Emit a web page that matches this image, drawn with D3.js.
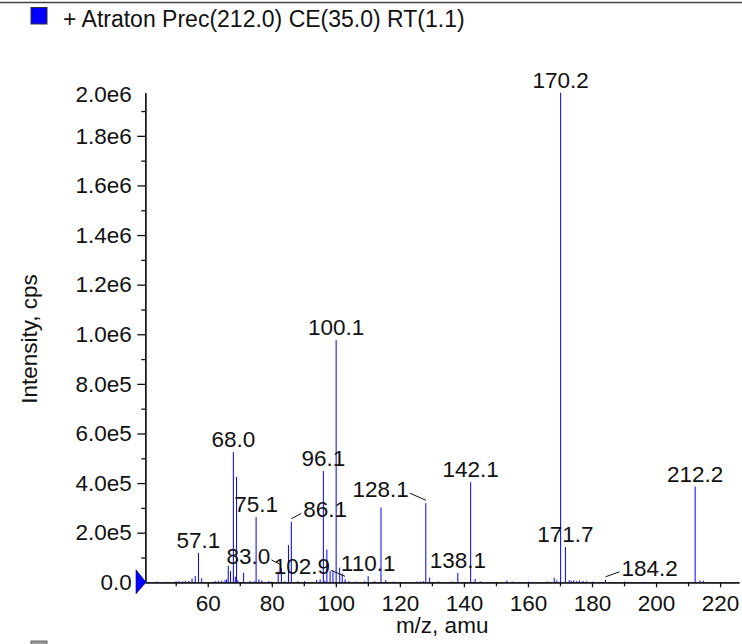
<!DOCTYPE html>
<html>
<head>
<meta charset="utf-8">
<script src="https://cdn.jsdelivr.net/npm/d3@7"></script>
<style>
body{margin:0;background:#fff}
svg{display:block;font-family:"Liberation Sans",Arial,Helvetica,sans-serif}
</style>
</head>
<body>
<svg id="chart"></svg>
<script>
let title = "+ Atraton Prec(212.0) CE(35.0) RT(1.1)"
let xTitle = "m/z, amu"
let yTitle = "Intensity, cps"

// peaks
let mzValues = [44.1, 47.0, 50.1, 51.0, 52.1, 53.0, 54.1, 55.1, 56.1, 57.1, 58.1,
  62.3, 63.3, 64.4, 65.4, 65.9, 66.4, 67.1, 68.0, 68.6, 69.0, 69.4, 71.2, 73.2, 74.5,
  75.1, 76.0, 76.9, 79.1, 80.0, 82.0, 83.0, 84.1, 85.2, 86.1, 88.1, 90.2, 94.0, 95.1,
  96.1, 96.6, 97.2, 98.2, 99.1, 100.1, 101.2, 102.0, 102.9, 104.1, 106.1, 109.0, 110.1,
  112.1, 114.1, 115.6, 118.1, 125.3, 126.6, 127.4, 128.1, 129.3, 132.1, 136.1, 138.1,
  142.1, 143.5, 145.1, 153.4, 155.1, 160.1, 166.1, 168.2, 169.0, 170.2, 171.7, 172.9,
  173.5, 174.3, 175.2, 176.1, 177.2, 178.3, 180.4, 184.2, 190.1, 196.2, 212.2, 213.7, 214.8]
let intensities = [3000, 2500, 4000, 5000, 4000, 6000, 5000, 15000, 25000, 118000, 16000,
  5000, 6000, 7000, 9000, 12000, 67000, 45000, 525000, 23000, 425000, 8000, 39000, 5000, 4000,
  263000, 12000, 8000, 5000, 3000, 43000, 58000, 4000, 150000, 244000, 4000, 5000, 10000, 12000,
  449000, 6000, 132000, 45000, 46000, 977000, 59000, 35000, 12000, 4000, 3000, 4000, 25000,
  4000, 302000, 9000, 3000, 3000, 3000, 4000, 319000, 19000, 3000, 3000, 37600,
  403000, 13000, 4000, 7000, 3000, 2500, 3000, 19000, 8000, 1974000, 142000, 9000,
  6000, 8000, 5000, 7000, 5000, 4000, 3000, 10000, 3000, 2000, 386000, 8000, 6000]

let labelMz = [57.1, 68.0, 75.1, 83.0, 86.1, 96.1, 100.1, 102.9, 110.1, 128.1, 138.1, 142.1, 170.2, 171.7, 184.2, 212.2]

let xDomain = [40.5, 225.9]
let yMax = 1974000
let xTicks = [60, 80, 100, 120, 140, 160, 180, 200, 220]
let xMinorTicks = [50, 70, 90, 110, 130, 150, 170, 190, 210]
let yTicks = [0, 200000, 400000, 600000, 800000, 1000000, 1200000, 1400000, 1600000, 1800000]
let yTickLabels = ["0.0", "2.0e5", "4.0e5", "6.0e5", "8.0e5", "1.0e6", "1.2e6", "1.4e6", "1.6e6", "1.8e6"]
let yMinorTicks = [100000, 300000, 500000, 700000, 900000, 1100000, 1300000, 1500000, 1700000, 1900000]
let yTopLabel = "2.0e6"

let width = 742
let height = 644
let plotLeft = 145.3
let plotRight = 739
let plotTop = 92.7
let plotBottom = 582.3
let fontSize = 22.5

// labels that are pushed aside and tied to their peak with a short line
let shifted = {
  "83.0": {anchor: "end", dx: -11, dy: -4},
  "86.1": {anchor: "start", dx: 12, dy: -4.4},
  "102.9": {anchor: "end", dx: -15, dy: -5},
  "128.1": {anchor: "end", dx: -17, dy: -6},
  "184.2": {anchor: "start", dx: 16, dy: -4}
}

let svg = d3.select('#chart')
            .attr('width', width)
            .attr('height', height)

let xScale = d3.scaleLinear().domain(xDomain).range([plotLeft, plotRight])
let yScale = d3.scaleLinear().domain([0, yMax]).range([plotBottom, plotTop])

let drawFrame = () => {
  svg.append('line')
     .attr('x1', 0).attr('x2', width)
     .attr('y1', 2.5).attr('y2', 2.5)
     .attr('stroke', '#444').attr('stroke-width', 1.5)

  svg.append('rect')
     .attr('x', 31).attr('y', 7.5).attr('width', 16).attr('height', 16.5)
     .attr('fill', '#0000ff').attr('stroke', '#333').attr('stroke-width', 1)

  svg.append('text')
     .attr('x', 63).attr('y', 26.5)
     .attr('font-size', 23).attr('fill', '#111')
     .text(title)

  svg.append('rect')
     .attr('x', 31).attr('y', 641).attr('width', 16).attr('height', 16)
     .attr('fill', '#999').attr('stroke', '#666').attr('stroke-width', 1)
}

let drawAxes = () => {
  let xAxis = d3.axisBottom(xScale)
                .tickValues(xTicks)
                .tickFormat(d3.format('d'))
                .tickSize(5)
                .tickSizeOuter(0)
                .tickPadding(8)
  let xMinor = d3.axisBottom(xScale).tickValues(xMinorTicks).tickFormat('').tickSize(4).tickSizeOuter(0)

  let yAxis = d3.axisLeft(yScale)
                .tickValues(yTicks)
                .tickFormat((d, i) => yTickLabels[i])
                .tickSize(8)
                .tickSizeOuter(0)
                .tickPadding(5.6)
  let yMinor = d3.axisLeft(yScale).tickValues(yMinorTicks).tickFormat('').tickSize(4).tickSizeOuter(0)

  svg.append('g').attr('id', 'x-axis')
     .attr('transform', 'translate(0,' + plotBottom + ')')
     .call(xAxis)
  svg.append('g').attr('transform', 'translate(0,' + plotBottom + ')').call(xMinor)

  svg.append('g').attr('id', 'y-axis')
     .attr('transform', 'translate(' + plotLeft + ',0)')
     .call(yAxis)
  svg.append('g').attr('transform', 'translate(' + plotLeft + ',0)').call(yMinor)

  svg.selectAll('.domain, .tick line')
     .attr('stroke', '#111').attr('stroke-width', 1.3)
  svg.selectAll('.tick text')
     .attr('font-size', fontSize).attr('fill', '#111')
     .attr('font-family', '"Liberation Sans",Arial,sans-serif')

  svg.append('text')
     .attr('x', plotLeft - 13.6).attr('y', yScale(yMax) + 2)
     .attr('dy', '0.32em')
     .attr('text-anchor', 'end')
     .attr('font-size', fontSize).attr('fill', '#111')
     .text(yTopLabel)

  svg.append('text')
     .attr('transform', 'translate(37.3,' + ((plotTop + plotBottom) / 2 + 1.5) + ') rotate(-90)')
     .attr('text-anchor', 'middle')
     .attr('font-size', fontSize).attr('fill', '#111')
     .text(yTitle)

  svg.append('text')
     .attr('x', (plotLeft + plotRight) / 2).attr('y', 633)
     .attr('text-anchor', 'middle')
     .attr('font-size', fontSize).attr('fill', '#111')
     .text(xTitle)
}

let drawPeaks = () => {
  let peaks = mzValues.map((m, i) => ({mz: m, value: intensities[i]}))
  svg.append('g')
     .selectAll('line')
     .data(peaks)
     .enter()
     .append('line')
     .attr('x1', d => xScale(d.mz)).attr('x2', d => xScale(d.mz))
     .attr('y1', yScale(0)).attr('y2', d => yScale(d.value))
     .attr('stroke', '#0000ff').attr('stroke-width', 1)

  // precursor marker on the y axis
  let y0 = yScale(0)
  svg.append('path')
     .attr('d', 'M' + (plotLeft - 9.3) + ',' + (y0 - 12.5) + 'L' + (plotLeft - 9.3) + ',' + (y0 + 11.5) + 'L' + (plotLeft + 0.7) + ',' + y0 + 'Z')
     .attr('fill', '#0000ff').attr('stroke', '#00006a').attr('stroke-width', 0.6)
}

let drawLabels = () => {
  let g = svg.append('g')
  labelMz.forEach(m => {
    let i = mzValues.indexOf(m)
    let px = xScale(m)
    let py = yScale(intensities[i])
    let key = m.toFixed(1)
    let s = shifted[key]
    let t = g.append('text')
             .attr('font-size', fontSize).attr('fill', '#111')
             .text(key)
    if (s) {
      let tx = px + s.dx
      let ty = py + s.dy
      t.attr('x', tx).attr('y', ty).attr('text-anchor', s.anchor)
      let lx = s.anchor == 'end' ? tx + 1 : tx - 2
      g.append('line')
       .attr('x1', lx).attr('y1', ty - 4)
       .attr('x2', px).attr('y2', py - 3)
       .attr('stroke', '#111').attr('stroke-width', 1)
    } else {
      t.attr('x', px).attr('y', py - 5).attr('text-anchor', 'middle')
    }
  })
}

drawFrame()
drawAxes()
drawPeaks()
drawLabels()
</script>
</body>
</html>
